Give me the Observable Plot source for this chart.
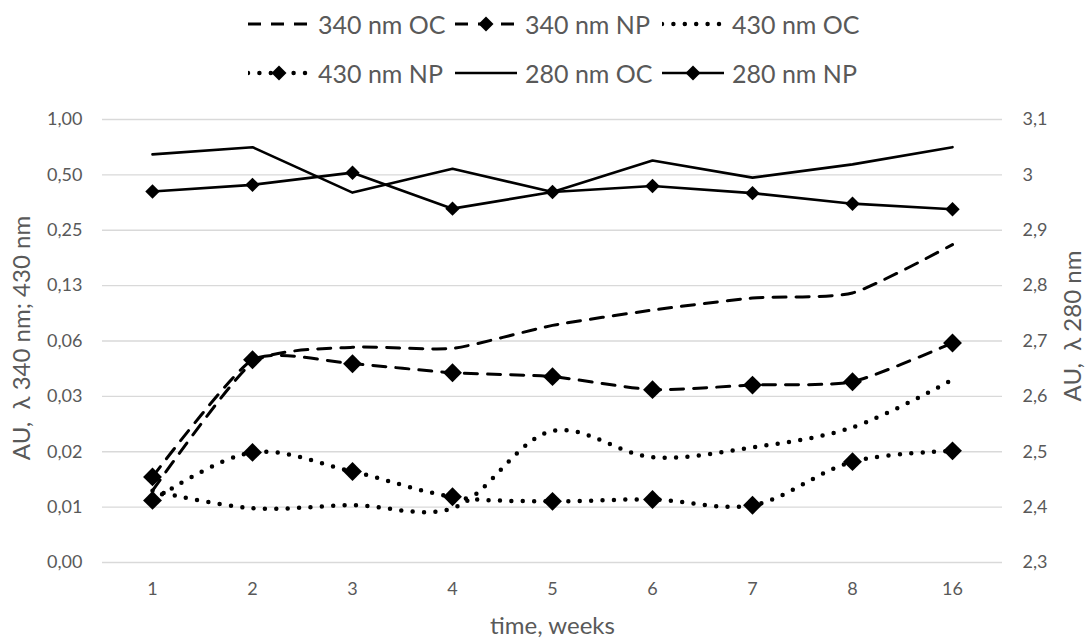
<!DOCTYPE html>
<html>
<head>
<meta charset="utf-8">
<script src="https://cdn.jsdelivr.net/npm/d3@7"></script>
<script src="https://cdn.jsdelivr.net/npm/@observablehq/plot@0.6"></script>
<style>
  html, body { margin: 0; padding: 0; background: #fff; }
  body { width: 1087px; height: 640px; position: relative; font-family: Lato, "Open Sans", sans-serif; }
  #legend { position: absolute; left: 0; top: 0; width: 1087px; height: 100px; }
  .item { position: absolute; height: 30px; display: flex; align-items: center; color: #595959; font-size: 25px; white-space: nowrap; }
  .item svg { margin-right: 8px; }
  #chart { position: absolute; left: 0; top: 100px; }
</style>
</head>
<body>
<div id="legend"></div>
<div id="chart"></div>
<script>
// ---- data ----
const weeks = ["1", "2", "3", "4", "5", "6", "7", "8", "16"];
const oc340 = [0.0096, 0.0477, 0.0578, 0.0570, 0.0760, 0.0920, 0.1070, 0.1140, 0.2090];
const np340 = [0.0114, 0.0494, 0.0470, 0.0420, 0.0400, 0.0340, 0.0360, 0.0375, 0.0610];
const oc430 = [0.0096, 0.0077, 0.0080, 0.0077, 0.0203, 0.0146, 0.0165, 0.0212, 0.0385];
const np430 = [0.0085, 0.0155, 0.0122, 0.0089, 0.0084, 0.0086, 0.0080, 0.0138, 0.0158];
const oc280 = [3.037, 3.050, 2.968, 3.011, 2.969, 3.026, 2.995, 3.019, 3.050];
const np280 = [2.970, 2.982, 3.004, 2.939, 2.969, 2.980, 2.967, 2.948, 2.938];

const seriesNames = ["340 nm OC", "340 nm NP", "430 nm OC", "430 nm NP", "280 nm OC", "280 nm NP"];

const leftTicks = [0.00390625, 0.0078125, 0.015625, 0.03125, 0.0625, 0.125, 0.25, 0.5, 1];
const leftTickLabels = ["0,00", "0,01", "0,02", "0,03", "0,06", "0,13", "0,25", "0,50", "1,00"];
const rightTicks = [2.3, 2.4, 2.5, 2.6, 2.7, 2.8, 2.9, 3.0, 3.1];
const rightTickLabels = ["2,3", "2,4", "2,5", "2,6", "2,7", "2,8", "2,9", "3", "3,1"];

const xTitle = "time, weeks";
const yLeftTitle = "AU,  λ 340 nm; 430 nm";
const yRightTitle = "AU,  λ 280 nm";

// ---- secondary axis mapping: linear [2.3, 3.1] onto the log2 range of the primary axis ----
const secondary = d3.scaleLinear().domain([2.3, 3.1]).range([-8, 0]);
const toPrimary = v => Math.pow(2, secondary(v));

const styles = {
  dashed: {stroke: "black", strokeWidth: 3, strokeDasharray: "13,10", curve: "cardinal", tension: 0.4},
  dotted: {stroke: "black", strokeWidth: 4.5, strokeDasharray: "0,11.4", strokeLinecap: "round", curve: "catmull-rom"},
  solid: {stroke: "black", strokeWidth: 2.6, curve: "linear"}
};

const series = [
  {name: seriesNames[0], values: oc340, secondary: false, style: "dashed", marker: 0},
  {name: seriesNames[1], values: np340, secondary: false, style: "dashed", marker: 8.5},
  {name: seriesNames[2], values: oc430, secondary: false, style: "dotted", marker: 0},
  {name: seriesNames[3], values: np430, secondary: false, style: "dotted", marker: 8.5},
  {name: seriesNames[4], values: oc280, secondary: true, style: "solid", marker: 0},
  {name: seriesNames[5], values: np280, secondary: true, style: "solid", marker: 6.5}
];

const leftMap = new Map(leftTicks.map((t, i) => [t, leftTickLabels[i]]));
const rightPos = rightTicks.map(toPrimary);
const rightMap = new Map(rightPos.map((p, i) => [p, rightTickLabels[i]]));

const marks = [
  Plot.gridY(leftTicks, {stroke: "#d9d9d9", strokeOpacity: 1, strokeWidth: 1.3}),
  Plot.axisX({tickSize: 0, tickPadding: 20, fontSize: 18, label: null}),
  Plot.axisY(leftTicks, {anchor: "left", tickSize: 0, tickPadding: 20, fontSize: 18, tickFormat: d => leftMap.get(d), label: null}),
  Plot.axisY(rightPos, {anchor: "right", tickSize: 0, tickPadding: 20, fontSize: 18, tickFormat: d => rightMap.get(d), label: null}),
  Plot.text([xTitle], {frameAnchor: "bottom", dy: 71, fontSize: 24, fill: "#595959"}),
  Plot.text([yLeftTitle], {frameAnchor: "left", textAnchor: "middle", dx: -80, dy: -3, rotate: -90, fontSize: 24, fill: "#595959"}),
  Plot.text([yRightTitle], {frameAnchor: "right", textAnchor: "middle", dx: 71, dy: -15, rotate: -90, fontSize: 24, fill: "#595959"})
];

for (const s of series) {
  const rows = weeks.map((w, i) => ({week: w, v: s.secondary ? toPrimary(s.values[i]) : s.values[i]}));
  marks.push(Plot.line(rows, {x: "week", y: "v", ...styles[s.style]}));
  if (s.marker) marks.push(Plot.dot(rows, {x: "week", y: "v", symbol: "diamond2", fill: "black", r: s.marker}));
}

const chart = Plot.plot({
  width: 1087,
  height: 540,
  marginLeft: 102,
  marginRight: 85,
  marginTop: 19,
  marginBottom: 78,
  style: {fontFamily: "Lato, 'Open Sans', sans-serif", color: "#595959", background: "white"},
  x: {type: "point", domain: weeks, padding: 0.5, label: null},
  y: {type: "log", base: 2, domain: [leftTicks[0], leftTicks[leftTicks.length - 1]], label: null},
  marks
});
document.getElementById("chart").appendChild(chart);

// ---- legend ----
function sampleSvg(s) {
  const st = styles[s.style];
  const w = 62, h = 24;
  let line = `<line x1="0" y1="${h/2}" x2="${w}" y2="${h/2}" stroke="black" stroke-width="${st.strokeWidth}"` +
    (st.strokeDasharray ? ` stroke-dasharray="${st.strokeDasharray}"` : "") +
    (st.strokeLinecap ? ` stroke-linecap="${st.strokeLinecap}"` : "") + `/>`;
  let marker = "";
  if (s.marker) {
    const r = 7.5;
    marker = `<path d="M${w/2},${h/2 - r}L${w/2 + r},${h/2}L${w/2},${h/2 + r}L${w/2 - r},${h/2}Z" fill="black"/>`;
  }
  return `<svg width="${w}" height="${h}">${line}${marker}</svg>`;
}
const legend = document.getElementById("legend");
series.forEach((s, i) => {
  const col = i % 3, row = Math.floor(i / 3);
  const div = document.createElement("div");
  div.className = "item";
  div.style.left = (248 + col * 207) + "px";
  div.style.top = (row === 0 ? 9 : 58) + "px";
  div.innerHTML = sampleSvg(s) + `<span>${s.name}</span>`;
  legend.appendChild(div);
});
</script>
</body>
</html>
